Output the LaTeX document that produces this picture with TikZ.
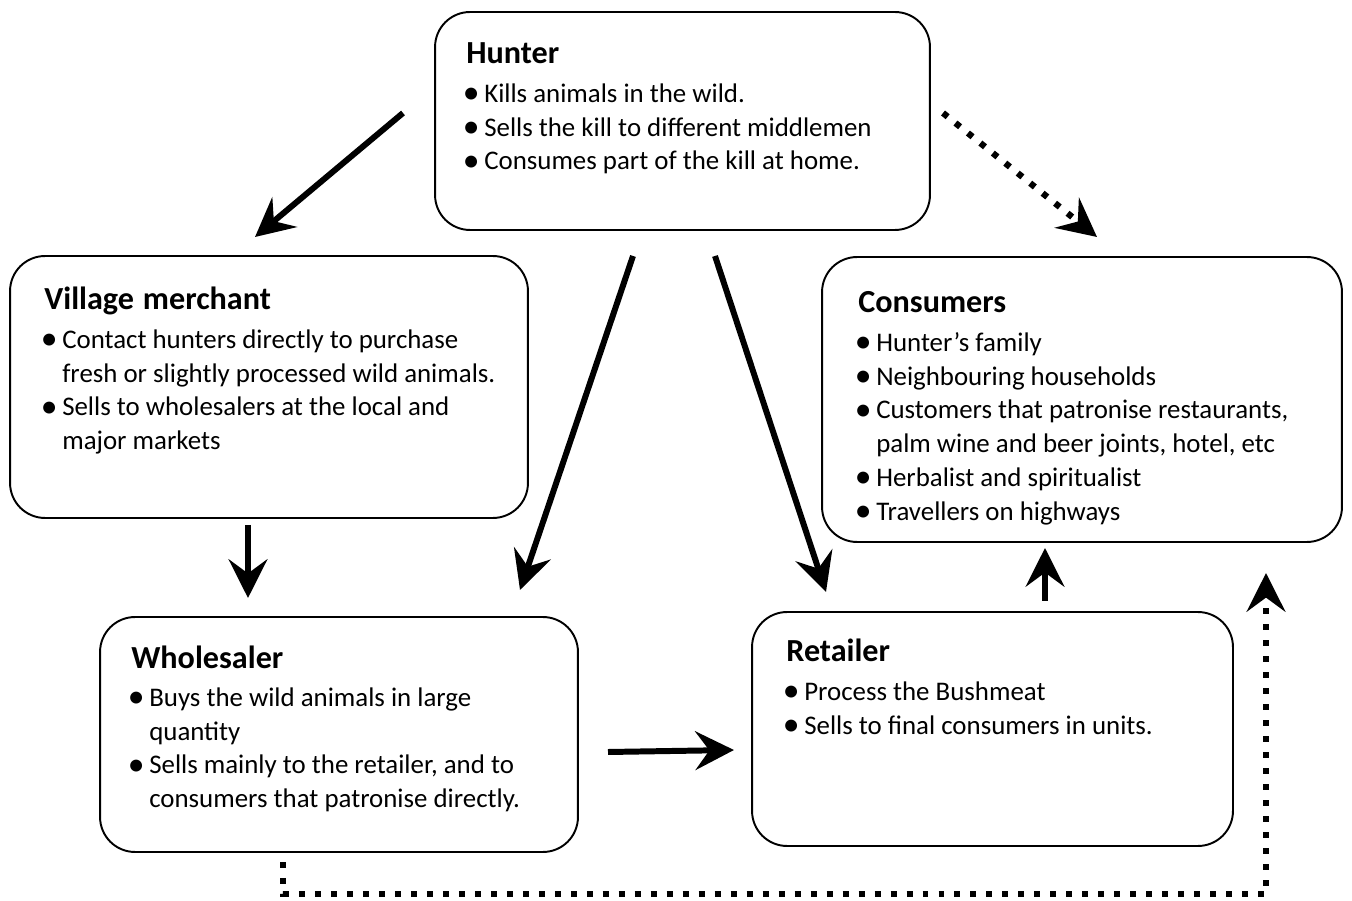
\documentclass[tikz,border=0pt]{standalone}
\usepackage{fontspec}
\setmainfont{Carlito}
\usetikzlibrary{arrows.meta}

\newcommand\ttl[1]{{\fontsize{18.3}{20}\selectfont\bfseries #1}\par\vspace{2.4pt}}
\newcommand\itm{\par\spaceskip=0.226em plus 0.1em minus 0.05em\relax
  \hangindent=10.2pt\hangafter=1\noindent
  \makebox[10.2pt][l]{\hspace{-2pt}\raisebox{-0.04em}{\scalebox{1.25}{\textbullet}}}}

\tikzset{
  stage/.style={draw, line width=1.1pt, rounded corners=0.7cm, inner sep=0pt, outer sep=0pt},
  note/.style={anchor=base west, text width=10cm, inner sep=0pt,
    font=\fontsize{15.3}{19.3}\selectfont},
  flow/.style={line width=3.4pt, -{Stealth[length=22pt,width=22pt,inset=8pt]}},
  flowdot/.style={line width=3.6pt, dash pattern=on 3.4pt off 5.7pt,
    -{Stealth[length=22pt,width=22pt,inset=8pt]}}
}

\begin{document}
\begin{tikzpicture}[x=0.02cm,y=-0.02cm]
	\useasboundingbox (0,0) rectangle (1352,901);

	\node[stage, minimum width=9.9cm, minimum height=4.36cm] (hunter) at (682.5,121) {};
	\node[stage, minimum width=10.36cm, minimum height=5.24cm] (village) at (269,387) {};
	\node[stage, minimum width=10.4cm, minimum height=5.7cm] (consumers) at (1082,399.5) {};
	\node[stage, minimum width=9.56cm, minimum height=4.7cm] (wholesaler) at (339,734.5) {};
	\node[stage, minimum width=9.62cm, minimum height=4.68cm] (retailer) at (992.5,729) {};

	\node[note] (huntertxt) at (466,64) {\ttl{Hunter}
		\itm Kills animals in the wild.
		\itm Sells the kill to different middlemen
		\itm Consumes part of the kill at home.\par};
	\node[note] (villagetxt) at (44,310) {\ttl{Village merchant}
		\itm Contact hunters directly to purchase\newline fresh or slightly processed wild animals.
		\itm Sells to wholesalers at the local and\newline major markets\par};
	\node[note] (consumerstxt) at (858,313) {\ttl{Consumers}
		\itm Hunter’s family
		\itm Neighbouring households
		\itm Customers that patronise restaurants,\newline palm wine and beer joints, hotel, etc
		\itm Herbalist and spiritualist
		\itm Travellers on highways\par};
	\node[note] (wholesalertxt) at (131,668) {\ttl{Wholesaler}
		\itm Buys the wild animals in large\newline quantity
		\itm Sells mainly to the retailer, and to\newline consumers that patronise directly.\par};
	\node[note] (retailertxt) at (786,662) {\ttl{Retailer}
		\itm Process the Bushmeat
		\itm Sells to final consumers in units.\par};

	\coordinate (hv1) at (403,113);
	\coordinate (hv2) at (255,237);
	\coordinate (hc1) at (943,113);
	\coordinate (hc2) at (1097,237);
	\coordinate (hw1) at (633,256);
	\coordinate (hw2) at (520,590);
	\coordinate (hr1) at (715,256);
	\coordinate (hr2) at (826,592);
	\coordinate (vw1) at (248,525);
	\coordinate (vw2) at (248,598);
	\coordinate (wr1) at (608,752);
	\coordinate (wr2) at (734,750);
	\coordinate (rc1) at (1045,601);
	\coordinate (rc2) at (1045,548);
	\coordinate (wc1) at (283,862);
	\coordinate (wc2) at (1266,573);

	\draw[flow] (hv1) -- (hv2);
	\draw[flowdot] (hc1) -- (hc2);
	\draw[flow] (hw1) -- (hw2);
	\draw[flow] (hr1) -- (hr2);
	\draw[flow] (vw1) -- (vw2);
	\draw[flow] (wr1) -- (wr2);
	\draw[flow] (rc1) -- (rc2);
	\draw[flowdot] (wc1) |- (1266,894) -- (wc2);
\end{tikzpicture}
\end{document}
